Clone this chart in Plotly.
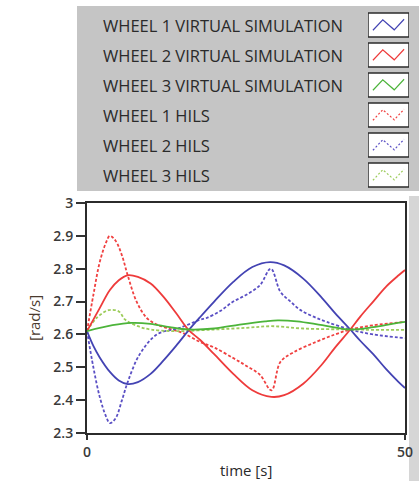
import plotly.graph_objects as go

# ---------------------------------------------------------------------------
# data (time in s, speed in rad/s)
W1_SIM_T = [0, 1, 2, 3.6, 5, 6.4, 8, 10, 12, 14, 16, 17.8, 20, 23, 26, 28.8, 31, 34, 37, 39, 41.4, 43, 45, 47, 49, 50]
W1_SIM_V = [2.61, 2.565, 2.53, 2.486, 2.46, 2.449, 2.455, 2.48, 2.52, 2.565, 2.613, 2.653, 2.70, 2.76, 2.805, 2.82, 2.81, 2.77, 2.71, 2.665, 2.615, 2.58, 2.54, 2.495, 2.455, 2.437]

W2_SIM_T = [0, 1, 2, 3.6, 5, 6.4, 8, 10, 12, 14, 16, 17.8, 20, 23, 26, 29, 31, 34, 37, 39, 41.4, 43, 45, 47, 49, 50]
W2_SIM_V = [2.61, 2.645, 2.68, 2.735, 2.765, 2.78, 2.775, 2.755, 2.715, 2.665, 2.613, 2.583, 2.54, 2.48, 2.43, 2.41, 2.415, 2.45, 2.51, 2.56, 2.615, 2.655, 2.70, 2.745, 2.78, 2.796]

W3_SIM_T = [0, 4, 7, 10, 13, 16, 20, 24, 28, 30, 33, 37, 41.4, 45, 48, 50]
W3_SIM_V = [2.61, 2.628, 2.635, 2.632, 2.622, 2.615, 2.618, 2.63, 2.64, 2.643, 2.64, 2.628, 2.615, 2.622, 2.632, 2.638]

W1_HILS_T = [0, 1, 2, 3, 3.6, 4.5, 5.5, 6.4, 7.8, 9.4, 11, 12.5, 15, 17.8, 20, 23, 25, 27.2, 29, 30.4, 32.5, 36, 39, 41.4, 45, 50]
W1_HILS_V = [2.61, 2.72, 2.82, 2.88, 2.90, 2.885, 2.84, 2.78, 2.70, 2.65, 2.63, 2.62, 2.605, 2.577, 2.56, 2.528, 2.505, 2.477, 2.43, 2.516, 2.546, 2.577, 2.60, 2.615, 2.628, 2.638]

W2_HILS_T = [0, 1, 2, 3, 3.6, 4.5, 5.5, 6.4, 8.3, 11, 14.6, 17.8, 18.8, 21, 23, 25, 27.2, 28.9, 30.4, 32, 33.5, 35.5, 37.7, 41.4, 45, 50]
W2_HILS_V = [2.61, 2.50, 2.41, 2.35, 2.33, 2.345, 2.40, 2.455, 2.54, 2.60, 2.62, 2.645, 2.65, 2.672, 2.70, 2.72, 2.75, 2.80, 2.73, 2.70, 2.675, 2.655, 2.638, 2.615, 2.60, 2.589]

W3_HILS_T = [0, 1.5, 3.4, 5, 6, 8, 10, 14, 20, 25, 29, 34, 41.4, 45, 50]
W3_HILS_V = [2.61, 2.65, 2.674, 2.67, 2.645, 2.625, 2.615, 2.61, 2.615, 2.62, 2.625, 2.618, 2.615, 2.614, 2.614]

LEGEND_NAMES = ['WHEEL 1 VIRTUAL SIMULATION', 'WHEEL 2 VIRTUAL SIMULATION',
                'WHEEL 3 VIRTUAL SIMULATION', 'WHEEL 1 HILS', 'WHEEL 2 HILS', 'WHEEL 3 HILS']

Y_TICKS = [2.3, 2.4, 2.5, 2.6, 2.7, 2.8, 2.9, 3.0]
Y_TICK_TEXT = ['2.3', '2.4', '2.5', '2.6', '2.7', '2.8', '2.9', '3']
X_TICKS = [0, 50]

# little zigzag drawn in each legend swatch box
SWATCH_X = [1.2, 3.6, 6.4, 8.8]
SWATCH_Y = [0.28, 0.72, 0.3, 0.74]

# ---------------------------------------------------------------------------
W, H = 419, 481

def px_x(p):
    return p / W

def px_y(p):
    return 1 - p / H

series = [
    (W1_SIM_T, W1_SIM_V, '#4343b3', 'solid'),
    (W2_SIM_T, W2_SIM_V, '#ee3b3b', 'solid'),
    (W3_SIM_T, W3_SIM_V, '#4cb43a', 'solid'),
    (W1_HILS_T, W1_HILS_V, '#f04040', '3px,2px'),
    (W2_HILS_T, W2_HILS_V, '#5a4fc4', '3px,2px'),
    (W3_HILS_T, W3_HILS_V, '#9ccc5a', '3px,2px'),
]

fig = go.Figure()

# draw solid ones last so they sit on top like in the picture
for t, v, col, dash in series[3:] + series[:3]:
    fig.add_trace(go.Scatter(x=t, y=v, mode='lines', line_shape='spline',
                             line=dict(color=col, width=1.8, dash=dash),
                             showlegend=False, hoverinfo='skip'))

# swatch samples on their own small axes
for i, (t, v, col, dash) in enumerate(series):
    fig.add_trace(go.Scatter(x=SWATCH_X, y=[5 - i + 0.1 + 0.8 * s for s in SWATCH_Y],
                             mode='lines', xaxis='x2', yaxis='y2',
                             line=dict(color=col, width=1.2, dash='2px,2px' if dash != 'solid' else 'solid'),
                             showlegend=False, hoverinfo='skip'))

# legend panel background
fig.add_shape(type='rect', xref='paper', yref='paper', layer='below',
              x0=px_x(77), x1=1.0, y0=px_y(191), y1=px_y(6),
              fillcolor='#c5c5c5', line_width=0)
# grey strip at the right edge under the panel
fig.add_shape(type='rect', xref='paper', yref='paper', layer='below',
              x0=px_x(409), x1=1.0, y0=0, y1=px_y(196),
              fillcolor='#d6d6d6', line_width=0)

# swatch boxes + legend text
for i, name in enumerate(LEGEND_NAMES):
    fig.add_shape(type='rect', xref='x2', yref='y2', layer='below',
                  x0=0, x1=10, y0=5 - i + 0.1, y1=6 - i - 0.1,
                  fillcolor='white', line=dict(color='#2b2b2b', width=1.5))
    fig.add_annotation(xref='paper', yref='y2', x=px_x(101), y=5.5 - i,
                       xanchor='left', yanchor='middle', showarrow=False,
                       text=name, font=dict(family='Open Sans', size=16.5, color='#2a2a2a'))

# axis titles
fig.add_annotation(xref='paper', yref='paper', x=px_x(34), y=px_y(318),
                   xanchor='center', yanchor='middle',
                   text='[rad/s]', textangle=-90, showarrow=False,
                   font=dict(family='Open Sans', size=15, color='#4a3a2e'))
fig.add_annotation(xref='paper', yref='paper', x=px_x(246), y=px_y(458),
                   xanchor='center', yanchor='top', text='time [s]', showarrow=False,
                   font=dict(family='Open Sans', size=15, color='#2a2a2a'))

tick_font = dict(family='Open Sans', size=14, color='#3a3a3a', weight=600)

fig.update_layout(
    width=W, height=H,
    margin=dict(l=0, r=0, t=0, b=0),
    paper_bgcolor='white',
    plot_bgcolor='white',
    template='none',
    xaxis=dict(domain=[px_x(87), px_x(405)], range=[0, 50],
               tickvals=X_TICKS, ticks='outside', ticklen=5, tickwidth=1.5,
               tickcolor='#333', tickfont=tick_font, showgrid=False, zeroline=False,
               showline=True, linecolor='#2b2b2b', linewidth=2, mirror=True,
               automargin=False),
    yaxis=dict(domain=[px_y(433), px_y(203)], range=[2.3, 3.0],
               tickvals=Y_TICKS, ticktext=Y_TICK_TEXT,
               ticks='outside', ticklen=9, tickwidth=1.5, tickcolor='#333',
               tickfont=tick_font, showgrid=False, zeroline=False,
               showline=True, linecolor='#2b2b2b', linewidth=2, mirror=True,
               automargin=False),
    xaxis2=dict(domain=[px_x(368), px_x(409)], range=[0, 10], visible=False,
                anchor='y2', fixedrange=True),
    yaxis2=dict(domain=[px_y(190), px_y(10)], range=[0, 6], visible=False,
                anchor='x2', fixedrange=True),
)

# page body has an 8px default margin, drop it so the figure fills the window
fig.write_html("out.html", config={'displayModeBar': False},
               post_script="document.body.style.margin='0';")
